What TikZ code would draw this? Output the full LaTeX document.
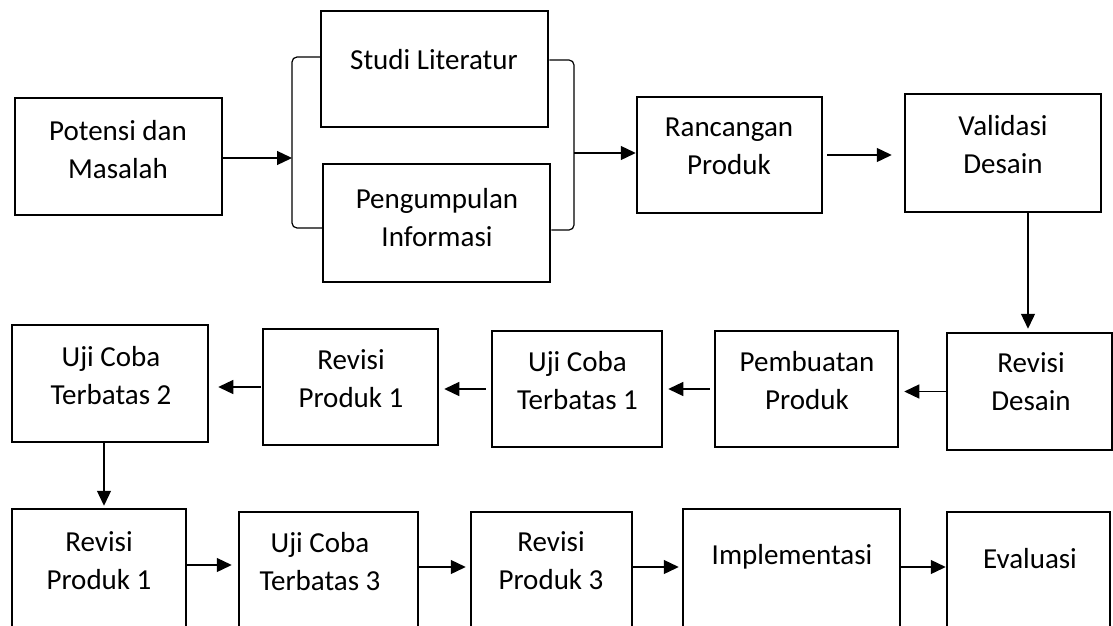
\documentclass[tikz,border=0pt]{standalone}
\usepackage{fontspec}
\setmainfont{Carlito}
\usetikzlibrary{arrows.meta,calc}
\begin{document}
\begin{tikzpicture}[x=1pt,y=-1pt,
  box/.style={draw, line width=2.5pt, rectangle, inner sep=0pt},
  txt/.style={font=\fontsize{29}{38}\selectfont, align=center, inner sep=0pt},
  conn/.style={line width=1.3pt, -{Triangle[length=15pt,width=14pt]}},
  brk/.style={line width=1.2pt, rounded corners=5pt}]
\clip (0,0) rectangle (1113,626);
\fill[white] (0,0) rectangle (1113,626);
% boxes
\node[box, minimum width=207pt, minimum height=117pt] (pot) at (118.5,156.5) {};
\node[box, minimum width=227pt, minimum height=116pt] (stu) at (434.5,69) {};
\node[box, minimum width=227pt, minimum height=118pt] (pen) at (436.5,223) {};
\node[box, minimum width=185pt, minimum height=116pt] (ran) at (729.5,155) {};
\node[box, minimum width=196pt, minimum height=118pt] (val) at (1003,153) {};
\node[box, minimum width=165pt, minimum height=117pt] (rd) at (1029.5,391.5) {};
\node[box, minimum width=183pt, minimum height=116pt] (pem) at (806.5,389) {};
\node[box, minimum width=170pt, minimum height=116pt] (u1) at (577,389) {};
\node[box, minimum width=175pt, minimum height=116pt] (r1) at (350.5,387) {};
\node[box, minimum width=196pt, minimum height=117pt] (u2) at (110,383.5) {};
\node[box, minimum width=174pt, minimum height=119pt] (r1b) at (99,568.5) {};
\node[box, minimum width=179pt, minimum height=116pt] (u3) at (328.5,570) {};
\node[box, minimum width=161pt, minimum height=116pt] (r3) at (551.5,570) {};
\node[box, minimum width=217pt, minimum height=119pt] (imp) at (791.5,568.5) {};
\node[box, minimum width=163pt, minimum height=116pt] (eva) at (1028.5,570) {};
% texts
\node[txt] (tpot) at (118,150) {Potensi dan\\Masalah};
\node[txt] (tstu) at (434,60) {Studi Literatur};
\node[txt] (tpen) at (437,218) {Pengumpulan\\Informasi};
\node[txt] (tran) at (729,146.5) {Rancangan\\Produk};
\node[txt] (tval) at (1003,144.5) {Validasi\\Desain};
\node[txt] (trd) at (1031,381.5) {Revisi\\Desain};
\node[txt] (tpem) at (807,381) {Pembuatan\\Produk};
\node[txt] (tu1) at (577.5,381) {Uji Coba\\Terbatas 1};
\node[txt] (tr1) at (351,379) {Revisi\\Produk 1};
\node[txt] (tu2) at (111,376) {Uji Coba\\Terbatas 2};
\node[txt] (tr1b) at (99,561) {Revisi\\Produk 1};
\node[txt] (tu3) at (320,561.5) {Uji Coba\\Terbatas 3};
\node[txt] (tr3) at (551,561) {Revisi\\Produk 3};
\node[txt] (timp) at (792,557) {Implementasi};
\node[txt] (teva) at (1030,559) {Evaluasi};
% brackets
\coordinate (lbt) at (292,57);
\coordinate (lbb) at (292,228);
\coordinate (lbm) at (292,158);
\coordinate (rbt) at (574,60);
\coordinate (rbb) at (574,230);
\coordinate (rbm) at (574,153);
\draw[brk] (stu.west |- lbt) -- (lbt) -- (lbb) -- (pen.west |- lbb);
\draw[brk] (stu.east |- rbt) -- (rbt) -- (rbb) -- (pen.east |- rbb);
% connectors
\draw[conn] (lbm -| pot.east) -- (lbm);
\draw[conn] (rbm) -- (rbm -| ran.west);
\draw[conn, shorten <=4pt, shorten >=12pt] (ran.east) -- (ran.east -| val.west);
\draw[conn, shorten >=3pt] ([xshift=-1.5pt]rd.north |- val.south) -- ([xshift=-1.5pt]rd.north);
\draw[conn, shorten >=5pt] (rd.west) -- (rd.west -| pem.east);
\draw[conn, shorten <=4pt, shorten >=5pt] (pem.west) -- (pem.west -| u1.east);
\draw[conn, shorten <=5pt, shorten >=5pt] (u1.west) -- (u1.west -| r1.east);
\draw[conn, shorten <=1pt, shorten >=9pt] (r1.west) -- (r1.west -| u2.east);
\draw[conn, shorten >=2pt] ([xshift=-6pt]u2.south) -- ([xshift=-6pt]u2.south |- r1b.north);
\draw[conn, shorten >=6pt] ([yshift=3.5pt]r1b.east) -- ([yshift=3.5pt]r1b.east -| u3.west);
\draw[conn, shorten >=4pt] ([yshift=3pt]u3.east) -- ([yshift=3pt]u3.east -| r3.west);
\draw[conn, shorten >=3pt] ([yshift=3pt]r3.east) -- ([yshift=3pt]r3.east -| imp.west);
\draw[conn] ([yshift=1.5pt]imp.east) -- ([yshift=1.5pt]imp.east -| eva.west);
\end{tikzpicture}
\end{document}
